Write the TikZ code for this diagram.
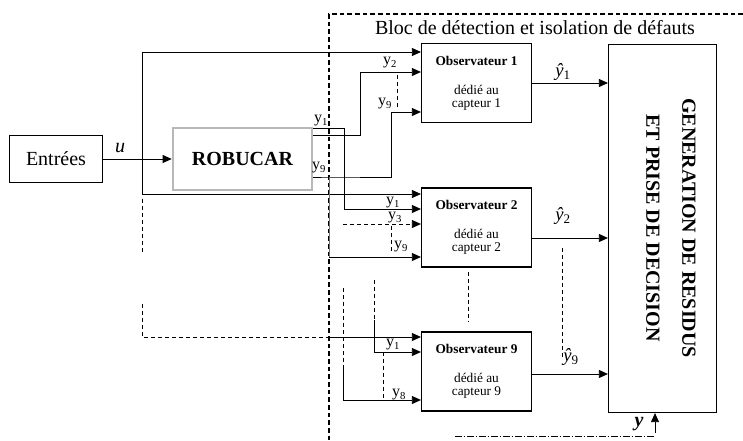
\documentclass[tikz,border=0pt]{standalone}
\usepackage{fontspec}
\setmainfont{Liberation Serif}
\usetikzlibrary{arrows.meta,positioning,calc}
\tikzset{
  wire/.style={line width=0.6pt},
  arrow/.style={wire, -{Triangle[length=6.75pt,width=6pt]}},
  dashedwire/.style={wire, dash pattern=on 3pt off 2.25pt},
  dashedarrow/.style={arrow, dash pattern=on 3pt off 2.25pt},
  inbox/.style={draw, line width=0.8pt, minimum width=69.75pt, minimum height=35.25pt, font=\fontsize{15}{15}\selectfont},
  plantbox/.style={draw=black!28, line width=2pt, minimum width=104.25pt, minimum height=46.5pt, font=\bfseries\fontsize{15}{15}\selectfont},
  obsbox/.style={draw, line width=0.9pt, minimum width=82.5pt, minimum height=59.25pt, inner sep=0pt, align=center, font=\fontsize{10}{9.75}\selectfont},
  genbox/.style={draw, line width=0.9pt, minimum width=81pt, minimum height=276pt},
  sig/.style={inner sep=0pt, font=\fontsize{12}{12}\selectfont},
  hatsig/.style={inner sep=0pt, font=\fontsize{14}{14}\selectfont},
  blocline/.style={line width=0.9pt, dash pattern=on 3.5pt off 2.25pt}
}
\begin{document}
\begin{tikzpicture}[x=0.75pt,y=-0.75pt]
  \useasboundingbox (0,0) rectangle (743,441);

  % blocks
  \node[inbox] (entrees) at (56,159) {Entrées};
  \node[plantbox] (robucar) at (242.5,159) {ROBUCAR};
  \node[obsbox] (obs1) at (476.5,83) {\textbf{Observateur 1}\\[12pt]dédié au\\capteur 1};
  \node[obsbox] (obs2) at (476.5,227.5) {\textbf{Observateur 2}\\[12pt]dédié au\\capteur 2};
  \node[obsbox] (obs9) at (476.5,371.5) {\textbf{Observateur 9}\\[12pt]dédié au\\capteur 9};
  \node[genbox] (gen) at (662.5,228.5) {};
  \node[rotate=-90, align=center, font=\bfseries\fontsize{15}{27}\selectfont] (gentxt) at (671,228)
    {GENERATION DE RESIDUS\\ET PRISE DE DECISION};

  % detection block frame
  \draw[blocline] (743,14) -- (329,14) -- (329,441);
  \node[font=\fontsize{15}{15}\selectfont] (bloctxt) at (535,28) {Bloc de détection et isolation de défauts};
  \draw[wire, dash pattern=on 5pt off 1.5pt on 1pt off 1.5pt] (455,436) -- (655,436);

  % input u
  \coordinate (ubr) at (142,159);
  \draw[arrow] (entrees) -- (robucar);
  \node[inner sep=0pt, font=\fontsize{15}{15}\selectfont] (lu) at (120,148) {\textit{u}};
  \draw[arrow] (ubr) |- ($(obs1.west)+(0,-31)$);
  \draw[arrow] (ubr) |- ($(obs2.west)+(0,-33.5)$);
  \draw[dashedwire] (142,199) -- (142,252);
  \coordinate (ulow) at (142,304);
  \coordinate (ucross) at (329,337);
  \draw[dashedwire] (ulow) |- (ucross);
  \draw[arrow] (ucross) -- (ucross -| obs9.west);

  % outputs of ROBUCAR
  \draw[arrow] ($(robucar.east)+(0,-31)$) -- ++(31,0) |- ($(obs2.west)+(0,-18.5)$);
  \draw[arrow] ($(robucar.east)+(0,-24)$) -- ++(47,0) |- ($(obs1.west)+(0,-11)$);
  \draw[arrow] ($(robucar.east)+(0,18)$) -- ++(16,0) coordinate (y9br) -- ++(62,0) |- ($(obs1.west)+(0,29)$);
  \draw[wire, black!55] (y9br) -- ++(0,80) coordinate (y9low);
  \draw[arrow] (y9low) -- (y9low -| obs2.west);
  \node[sig] (ly1r) at (321,121) {y\textsubscript{1}};
  \node[sig] (ly9r) at (319,168) {y\textsubscript{9}};

  % observer 1 inputs
  \node[sig] (ly12) at (390,63) {y\textsubscript{2}};
  \node[sig] (ly19) at (385,104) {y\textsubscript{9}};
  \draw[dashedwire] (397,75) -- (397,108);

  % observer 2 inputs
  \coordinate (y3src) at (343,224);
  \draw[dashedarrow] (y3src) -- (y3src -| obs2.west);
  \draw[dashedwire] (391,226) -- (391,252);
  \node[sig] (ly21) at (393,203) {y\textsubscript{1}};
  \node[sig] (ly23) at (395,218) {y\textsubscript{3}};
  \node[sig] (ly29) at (401,247) {y\textsubscript{9}};

  % observer 9 inputs
  \coordinate (s91) at (374,320);
  \coordinate (s98) at (343,365);
  \draw[dashedwire] (374,280) -- (s91);
  \draw[dashedwire] (343,288) -- (s98);
  \draw[arrow] (s91) |- ($(obs9.west)+(0,-19.5)$);
  \draw[arrow] (s98) |- ($(obs9.west)+(0,28.5)$);
  \draw[dashedwire] (383,352) -- (383,400);
  \node[sig] (ly91) at (393,345) {y\textsubscript{1}};
  \node[sig] (ly98) at (399,395) {y\textsubscript{8}};

  % estimated outputs
  \coordinate (o2out) at ($(obs2.east)+(0,10.5)$);
  \coordinate (o9out) at ($(obs9.east)+(0,2.5)$);
  \draw[arrow] (obs1.east) -- (obs1.east -| gen.west);
  \draw[arrow] (o2out) -- (o2out -| gen.west);
  \draw[arrow] (o9out) -- (o9out -| gen.west);
  \draw[dashedwire] (468,272) -- (468,322);
  \draw[dashedwire] (562,248) -- (562,358);
  \node[hatsig] (lh1) at (563,72) {\textit{ŷ}\textsubscript{1}};
  \node[hatsig] (lh2) at (563,216) {\textit{ŷ}\textsubscript{2}};
  \node[hatsig] (lh9) at (571,357) {\textit{ŷ}\textsubscript{9}};

  % measured outputs
  \coordinate (ysrc) at (655,433);
  \draw[arrow] (ysrc) -- (ysrc |- gen.south);
  \node[inner sep=0pt, font=\bfseries\itshape\fontsize{15}{15}\selectfont] (ly) at (639,424) {y};
\end{tikzpicture}
\end{document}
